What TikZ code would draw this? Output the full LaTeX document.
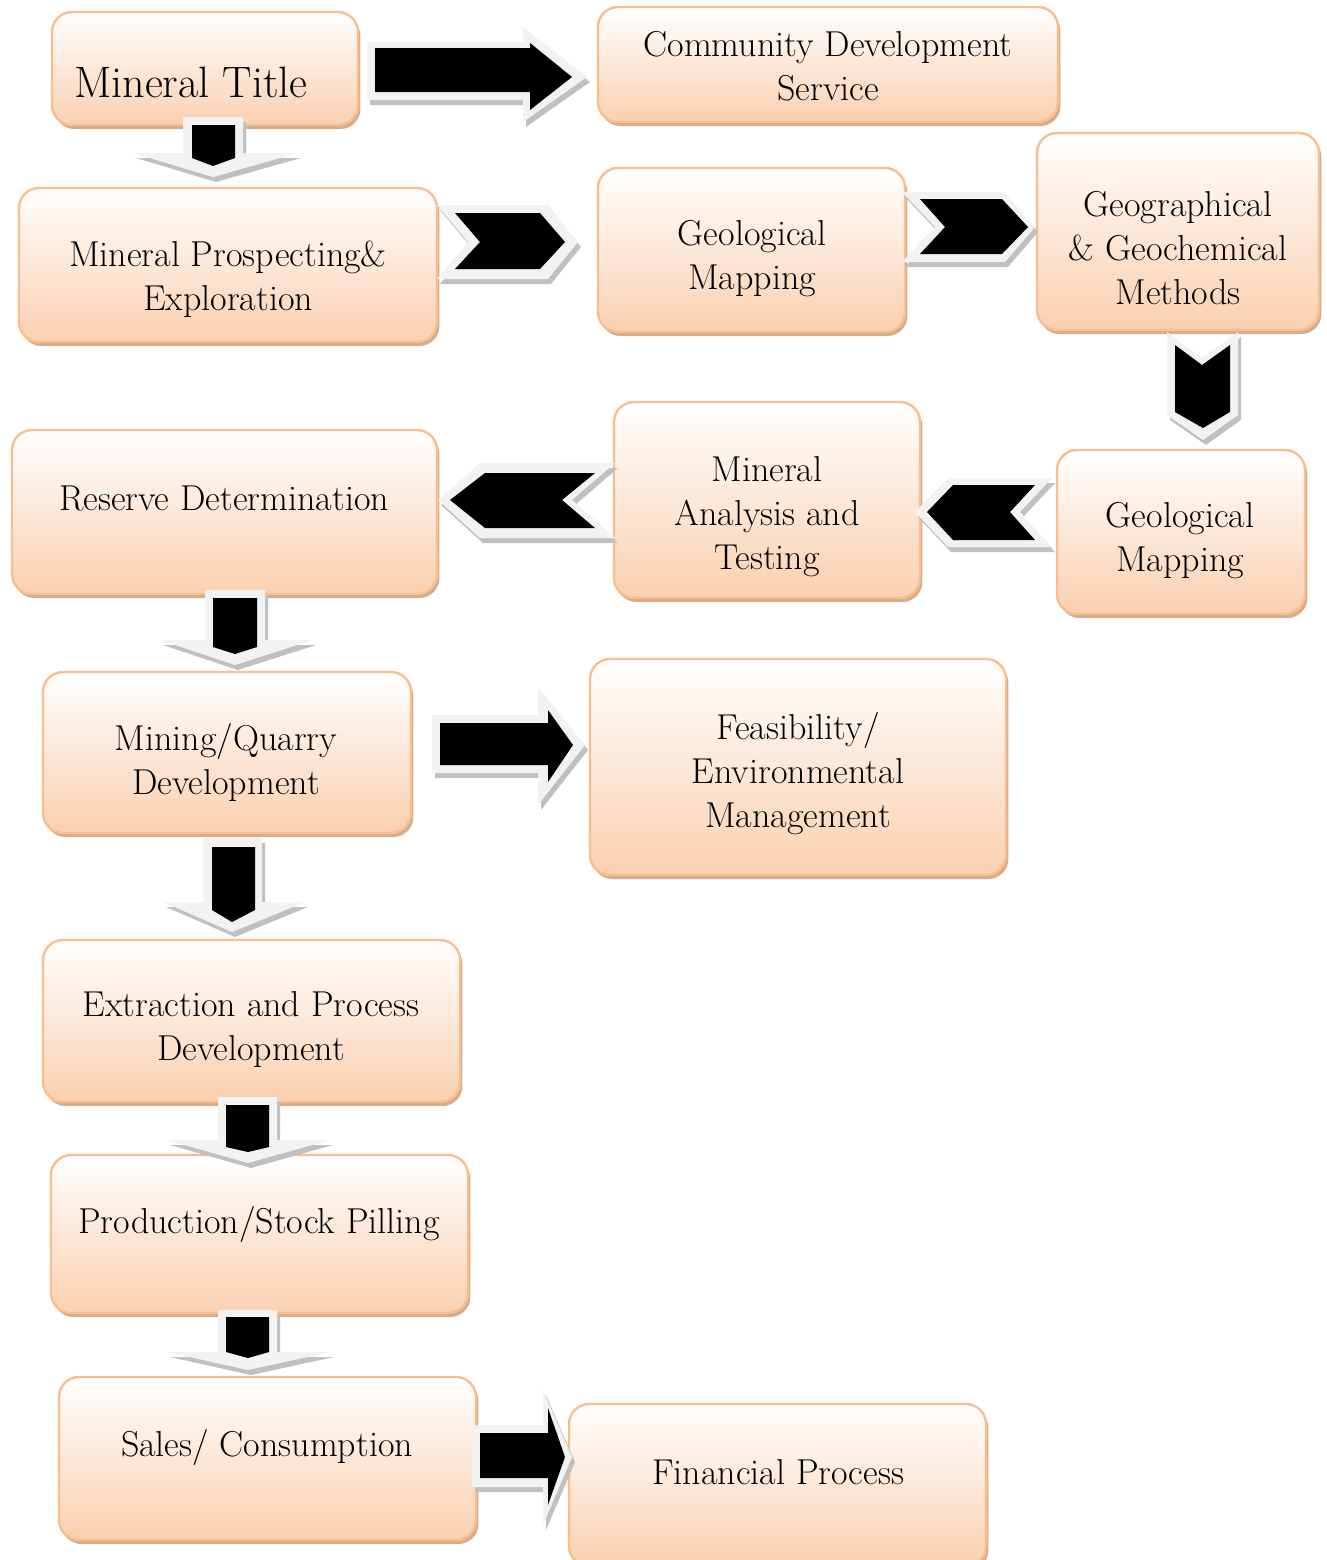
\documentclass[tikz,border=0pt]{standalone}
\usetikzlibrary{shadows,fit}
\definecolor{peach}{RGB}{250,208,176}
\definecolor{boxline}{RGB}{249,190,140}
\definecolor{boxshadow}{RGB}{214,172,140}
\definecolor{agray}{RGB}{242,242,242}
\definecolor{ashadow}{RGB}{192,192,192}
\tikzset{
  box/.style={rounded corners=10pt, draw=boxline, line width=1.2pt,
    top color=white, bottom color=peach, inner sep=0pt,
    drop shadow={shadow xshift=1.2pt, shadow yshift=-2pt, fill=boxshadow, opacity=1}},
  lbl/.style={align=center, font=\fontsize{18}{22}\selectfont, inner sep=0pt},
  arrowout/.style={fill=agray, preaction={fill=ashadow, transform canvas={shift={(1.5pt,-2.5pt)}}}},
  arrowin/.style={fill=black},
}
\begin{document}
\begin{tikzpicture}[x=0.5pt,y=-0.5pt]
\useasboundingbox (0,0) rectangle (1327,1560);
% boxes
\node[box, fit={(52,12)(358,125)}] (b1) {};
\node[box, fit={(598,7)(1058,122)}] (b2) {};
\node[box, fit={(19,188)(437,342)}] (b3) {};
\node[box, fit={(598,168)(905,332)}] (b4) {};
\node[box, fit={(1037,133)(1319,330)}] (b5) {};
\node[box, fit={(12,430)(437,594)}] (b6) {};
\node[box, fit={(614,402)(920,598)}] (b7) {};
\node[box, fit={(1057,450)(1305,614)}] (b8) {};
\node[box, fit={(43,672)(411,833)}] (b9) {};
\node[box, fit={(590,659)(1006,875)}] (b10) {};
\node[box, fit={(43,940)(460,1102)}] (b11) {};
\node[box, fit={(51,1155)(468,1313)}] (b12) {};
\node[box, fit={(59,1377)(476,1540)}] (b13) {};
\node[box, fit={(569,1404)(986,1566)}] (b14) {};
% labels
\node[lbl, font=\fontsize{22}{26}\selectfont] (t1) at (191,82) {Mineral Title};
\node[lbl] (t2) at (828,66) {Community Development\\Service};
\node[lbl] (t3) at (228,279) {Mineral Prospecting\&\\Exploration};
\node[lbl] (t4) at (752,259) {Geological\\Mapping};
\node[lbl] (t5) at (1178,248) {Geographical\\\& Geochemical\\Methods};
\node[lbl] (t6) at (224,498) {Reserve Determination};
\node[lbl] (t7) at (767,517) {Mineral\\Analysis and\\Testing};
\node[lbl] (t8) at (1180,541) {Geological\\Mapping};
\node[lbl] (t9) at (226,763) {Mining/Quarry\\Development};
\node[lbl] (t10) at (798,774) {Feasibility/\\Environmental\\Management};
\node[lbl] (t11) at (251,1030) {Extraction and Process\\Development};
\node[lbl] (t12) at (259,1224) {Production/Stock Pilling};
\node[lbl] (t13) at (267,1447) {Sales/ Consumption};
\node[lbl] (t14) at (778,1472) {Financial Process};
% A1 right block arrow
\path[arrowout] (367,42) -- (523,42) -- (523,27) -- (587,77) -- (523,122) -- (523,100) -- (367,100) -- cycle;
\path[arrowin] (375,48) -- (530,48) -- (530,43) -- (572,77) -- (530,110) -- (530,92) -- (375,92) -- cycle;
% A2 down
\path[arrowout] (183,117) -- (243,117) -- (243,153) -- (298,153) -- (213,177) -- (133,153) -- (183,153) -- cycle;
\path[arrowin] (192,125) -- (235,125) -- (235,158) -- (213,166) -- (192,158) -- cycle;
% A3 chevron right
\path[arrowout] (437,205) -- (548,205) -- (578,242) -- (548,279) -- (437,279) -- (468,242) -- cycle;
\path[arrowin] (455,213) -- (540,213) -- (565,242) -- (540,269) -- (455,269) -- (480,242) -- cycle;
% A4 chevron right
\path[arrowout] (902,192) -- (1005,192) -- (1035,227) -- (1005,262) -- (902,262) -- (935,227) -- cycle;
\path[arrowin] (920,199) -- (1002,199) -- (1028,227) -- (1002,254) -- (920,254) -- (945,227) -- cycle;
% A5 chevron down
\path[arrowout] (1167,332) -- (1202,358) -- (1238,332) -- (1238,415) -- (1203,440) -- (1167,415) -- cycle;
\path[arrowin] (1175,345) -- (1202,365) -- (1230,345) -- (1230,412) -- (1203,428) -- (1175,412) -- cycle;
% A6 chevron left
\path[arrowout] (915,512) -- (948,478) -- (1052,478) -- (1020,512) -- (1052,547) -- (948,547) -- cycle;
\path[arrowin] (927,512) -- (953,485) -- (1035,485) -- (1010,512) -- (1035,540) -- (953,540) -- cycle;
% A7 chevron left
\path[arrowout] (438,500) -- (480,463) -- (615,463) -- (572,500) -- (615,538) -- (480,538) -- cycle;
\path[arrowin] (450,500) -- (485,473) -- (595,473) -- (562,500) -- (595,528) -- (485,528) -- cycle;
% A8 down
\path[arrowout] (205,590) -- (265,590) -- (265,640) -- (313,640) -- (235,665) -- (160,640) -- (205,640) -- cycle;
\path[arrowin] (213,598) -- (257,598) -- (257,647) -- (235,654) -- (213,647) -- cycle;
% A9 right block arrow
\path[arrowout] (432,715) -- (538,715) -- (538,687) -- (585,745) -- (538,805) -- (538,773) -- (432,773) -- cycle;
\path[arrowin] (440,723) -- (548,723) -- (548,710) -- (573,745) -- (548,782) -- (548,765) -- (440,765) -- cycle;
% A10 down
\path[arrowout] (203,838) -- (262,838) -- (262,902) -- (305,902) -- (232,932) -- (163,902) -- (203,902) -- cycle;
\path[arrowin] (212,847) -- (255,847) -- (255,910) -- (232,922) -- (212,910) -- cycle;
% A11 down
\path[arrowout] (218,1097) -- (277,1097) -- (277,1140) -- (330,1140) -- (248,1163) -- (167,1140) -- (218,1140) -- cycle;
\path[arrowin] (226,1105) -- (269,1105) -- (269,1147) -- (248,1152) -- (226,1147) -- cycle;
% A12 down
\path[arrowout] (218,1310) -- (277,1310) -- (277,1352) -- (331,1352) -- (248,1370) -- (167,1352) -- (218,1352) -- cycle;
\path[arrowin] (226,1317) -- (269,1317) -- (269,1352) -- (248,1358) -- (226,1352) -- cycle;
% A13 right block arrow
\path[arrowout] (472,1425) -- (543,1425) -- (543,1390) -- (572,1457) -- (543,1525) -- (543,1487) -- (472,1487) -- cycle;
\path[arrowin] (480,1433) -- (548,1433) -- (548,1408) -- (565,1457) -- (548,1505) -- (548,1478) -- (480,1478) -- cycle;
\end{tikzpicture}
\end{document}
